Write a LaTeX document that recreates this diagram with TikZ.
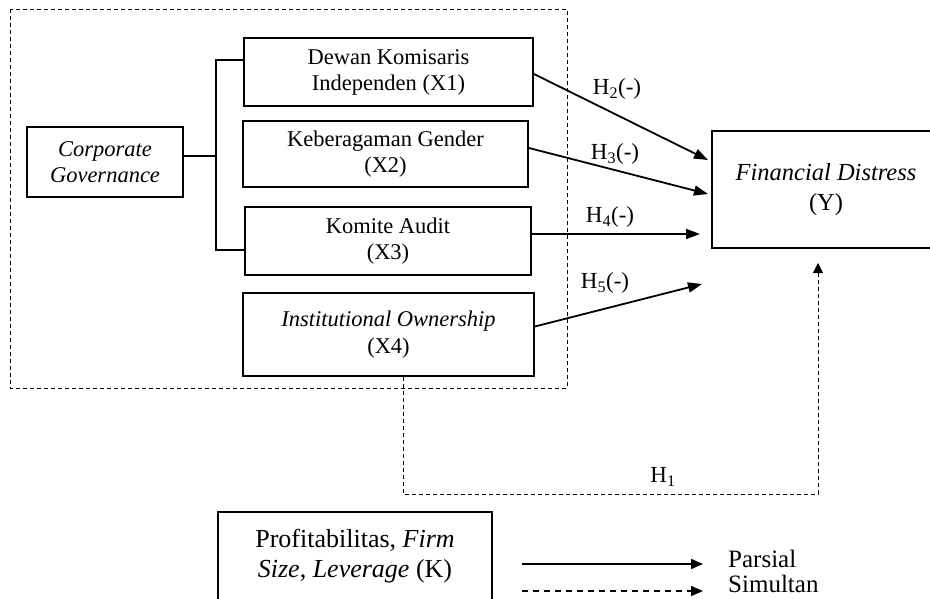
\documentclass[tikz,border=0pt]{standalone}
\usepackage{fontspec}
\setmainfont{Liberation Serif}
\usetikzlibrary{arrows.meta}

\begin{document}
\begin{tikzpicture}[x=1pt,y=-1pt,
 box/.style={draw,line width=1.9pt,align=center,inner sep=0pt,font=\fontsize{22.5}{26}\selectfont},
 hyp/.style={line width=1.8pt,-{Triangle[length=14pt,width=10pt]}},
 sim/.style={line width=.8pt,dash pattern=on 4pt off 3pt},
 lbl/.style={font=\fontsize{23}{26}\selectfont}]
\clip (0,0) rectangle (930,599);
\draw[sim] (10,9) rectangle (567,388);
\node[box,minimum width=156pt,minimum height=70pt] (cg) at (105,162) {\textit{Corporate}\\\textit{Governance}};
\node[box,minimum width=289pt,minimum height=68pt] (x1) at (388.5,72) {Dewan Komisaris\\Independen (X1)};
\node[box,minimum width=285pt,minimum height=66pt] (x2) at (385.5,154) {Keberagaman Gender\\(X2)};
\node[box,minimum width=286pt,minimum height=68pt] (x3) at (388,241) {Komite Audit\\(X3)};
\node[box,minimum width=291pt,minimum height=83pt,font=\fontsize{22.5}{27}\selectfont] (x4) at (388.5,334.5) {\textit{Institutional Ownership}\\(X4)};
\node[box,minimum width=228pt,minimum height=117pt,font=\fontsize{24.5}{30}\selectfont] (y) at (826,189.5) {\textit{Financial Distress}\\(Y)};
\node[box,minimum width=274pt,minimum height=88pt,font=\fontsize{26}{30}\selectfont] (k) at (355,556) {Profitabilitas, \textit{Firm}\\\textit{Size}, \textit{Leverage} (K)};
\coordinate (trunk) at (216,0);
\draw[line width=1.9pt] ([yshift=6pt]cg.east) -- ([yshift=6pt]cg.east -| trunk);
\draw[line width=1.9pt] ([yshift=12pt]x1.west) -| ([yshift=-9pt]x3.west -| trunk) -- ([yshift=-9pt]x3.west);
\coordinate (t2) at (708,160); \coordinate (t3) at (708,194);
\coordinate (t4) at (700,234); \coordinate (t5) at (702,284);
\draw[hyp] ([yshift=-2pt]x1.east) -- (t2);
\draw[hyp] ([yshift=6pt]x2.east) -- (t3);
\draw[hyp] ([yshift=7pt]x3.east) -- (t4);
\draw[hyp] ([yshift=8pt]x4.east) -- (t5);
\node[lbl] (h2) at (617,89) {H\textsubscript{2}(-)};
\node[lbl] (h3) at (615,154) {H\textsubscript{3}(-)};
\node[lbl] (h4) at (610,217) {H\textsubscript{4}(-)};
\node[lbl] (h5) at (605,283) {H\textsubscript{5}(-)};
\coordinate (h1corner) at (403,494); \coordinate (h1tip) at (818,263);
\draw[sim,-{Triangle[length=10pt,width=10pt]}] ([xshift=14.5pt]x4.south) -- (h1corner) -| (h1tip);
\node[lbl] (h1) at (663,477) {H\textsubscript{1}};
\coordinate (lp0) at (522,564); \coordinate (lp1) at (703,564);
\coordinate (ls0) at (522,591); \coordinate (ls1) at (703,591);
\draw[line width=1.8pt,-{Triangle[length=12pt,width=10pt]}] (lp0) -- (lp1);
\draw[line width=1.8pt,dash pattern=on 6pt off 5pt,-{Triangle[length=12pt,width=10pt]}] (ls0) -- (ls1);
\node[anchor=west,font=\fontsize{25}{27}\selectfont,inner sep=0pt] (parsial) at (728,559) {Parsial};
\node[anchor=west,font=\fontsize{25}{27}\selectfont,inner sep=0pt] (simultan) at (728,584) {Simultan};
\end{tikzpicture}
\end{document}
